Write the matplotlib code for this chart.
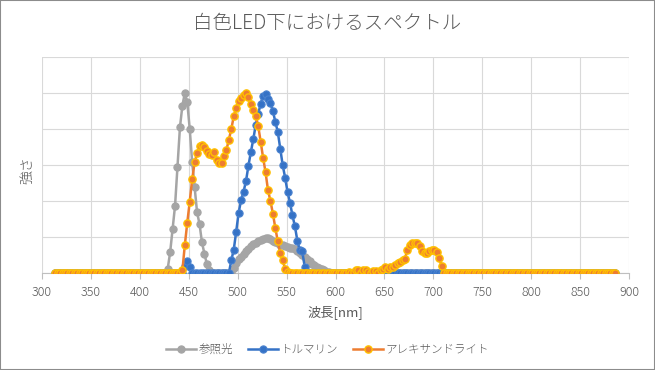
import numpy as np
import matplotlib
matplotlib.use('Agg')
import matplotlib.pyplot as plt
from matplotlib.patches import Rectangle

plt.rcParams['font.family'] = ['Noto Sans CJK JP', 'DejaVu Sans']
plt.rcParams['font.weight'] = 'light'

# sampling grid of the spectrometer [nm]
wl_start = 313.5
wl_step = 2.5
wavelength = np.arange(wl_start, 887, wl_step)

# 参照光 (reference light)
ref_peak_start = 428.5
ref_peak = [0.12, 0.58, 1.22, 1.87, 2.94, 4.05, 4.65, 5.0, 4.74, 4.0, 3.08, 2.38,
            1.69, 1.36, 0.85, 0.54, 0.25, 0.09]
ref_hump_start = 493.5
ref_hump = [0.03, 0.15, 0.28, 0.38, 0.45, 0.52, 0.6, 0.67, 0.74, 0.8, 0.83, 0.9,
            0.93, 0.95, 0.97, 0.96, 0.94, 0.9, 0.86, 0.82, 0.79, 0.77, 0.75, 0.72,
            0.7, 0.69, 0.66, 0.6, 0.55, 0.5, 0.44, 0.38, 0.32, 0.26, 0.21, 0.17,
            0.13, 0.1, 0.07, 0.04, 0.02, 0.0]

# トルマリン (tourmaline)
tou_bump_start = 446.0
tou_bump = [0.2, 0.34, 0.18]
tou_peak_start = 491.0
tou_peak = [0.0, 0.35, 0.65, 1.15, 1.68, 2.02, 2.26, 2.55, 2.98, 3.36, 3.72, 4.12,
            4.42, 4.7, 4.93, 4.97, 4.83, 4.72, 4.5, 4.2, 3.92, 3.45, 3.0, 2.65,
            2.25, 1.95, 1.6, 1.3, 0.9, 0.63, 0.6, 0.18, 0.02]

# アレキサンドライト (alexandrite)
ale_peak_start = 443.5
ale_peak = [0.07, 0.78, 1.4, 1.98, 2.6, 3.07, 3.33, 3.53, 3.55, 3.49, 3.4, 3.3,
            3.29, 3.36, 3.13, 3.05, 3.05, 3.25, 3.42, 3.7, 4.0, 4.35, 4.58, 4.77,
            4.87, 4.95, 5.0, 4.88, 4.7, 4.52, 4.35, 4.08, 3.65, 3.2, 2.8, 2.3,
            2.0, 1.65, 1.25, 0.88, 0.55, 0.35, 0.12, 0.02]
ale_red_start = 611.0
ale_red = [0.0, 0.03, 0.0, 0.02, 0.08, 0.09, 0.0, 0.07, 0.09, 0.03, 0.0, 0.06,
           0.05, 0.0, 0.08, 0.11, 0.16, 0.12, 0.18, 0.18, 0.22, 0.27, 0.3, 0.36,
           0.4, 0.65, 0.78, 0.82, 0.83, 0.84, 0.75, 0.62, 0.56, 0.55, 0.62, 0.63,
           0.64, 0.58, 0.42, 0.2, 0.0]

series_names = ['参照光', 'トルマリン', 'アレキサンドライト']
x_ticks = [300, 350, 400, 450, 500, 550, 600, 650, 700, 750, 800, 850, 900]


def build(parts):
    y = np.zeros(len(wavelength))
    for start, vals in parts:
        i = int(round((start - wl_start) / wl_step))
        y[i:i + len(vals)] = vals
    return y


ref = build([(ref_peak_start, ref_peak), (ref_hump_start, ref_hump)])
tou = build([(tou_bump_start, tou_bump), (tou_peak_start, tou_peak)])
ale = build([(ale_peak_start, ale_peak), (ale_red_start, ale_red)])

fig = plt.figure(figsize=(6.55, 3.7), dpi=100)
ax = fig.add_axes([42 / 655, 1 - 273 / 370, 587 / 655, 216 / 370])

text_col = '#595959'
grid_col = '#D9D9D9'

ax.plot(wavelength, ref, '-o', color='#A5A5A5', lw=1.8, ms=5.2,
        mfc='#A5A5A5', mec='#A5A5A5', mew=0.8, label=series_names[0], zorder=3)
ax.plot(wavelength, tou, '-o', color='#3572C6', lw=1.8, ms=5.2,
        mfc='#3572C6', mec='#4A82CF', mew=0.8, label=series_names[1], zorder=4)
ax.plot(wavelength, ale, '-o', color='#ED7D31', lw=1.8, ms=5.2,
        mfc='#ED7D31', mec='#FFC000', mew=1.0, label=series_names[2], zorder=5)

ax.set_xlim(300, 900)
ax.set_ylim(0, 6)
ax.set_xticks(x_ticks)
ax.set_yticks(range(0, 7))
ax.set_yticklabels([])
ax.tick_params(axis='y', length=0)
ax.tick_params(axis='x', colors='#BFBFBF', labelcolor=text_col, labelsize=9,
               length=4, width=0.8, pad=5)
ax.grid(True, color=grid_col, lw=0.8)
ax.set_axisbelow(True)
for s in ['top', 'right', 'left']:
    ax.spines[s].set_visible(False)
ax.spines['bottom'].set_color('#BFBFBF')
ax.spines['bottom'].set_linewidth(0.8)

ax.set_xlabel('波長[nm]', color=text_col, fontsize=9.5, labelpad=5)
fig.text(27 / 655, 1 - 170 / 370, '強さ', rotation=90, color=text_col,
         fontsize=10, ha='center', va='center')
fig.text(0.5, 1 - 23 / 370, '白色LED下におけるスペクトル', color=text_col,
         fontsize=14, ha='center', va='center')

fig.legend(loc='center', bbox_to_anchor=(0.5, 1 - 350 / 370), ncol=3,
           frameon=False, fontsize=8.3, labelcolor=text_col, handlelength=2.6,
           columnspacing=1.3, handletextpad=0.2)

fig.patches.append(Rectangle((0, 0), 1, 1, transform=fig.transFigure,
                             fill=False, edgecolor='#8C8C8C', lw=1.5))

fig.savefig('out.png', dpi=100)
